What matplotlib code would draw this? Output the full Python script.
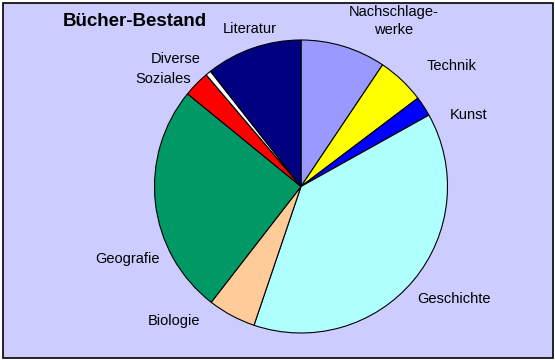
import matplotlib
matplotlib.use("Agg")
import matplotlib.pyplot as plt
from matplotlib.patches import Rectangle

plt.rcParams['font.family'] = ['Liberation Sans', 'DejaVu Sans']

# shares, clockwise from 12 o'clock
categories = ['Nachschlagewerke', 'Technik', 'Kunst', 'Geschichte', 'Biologie',
              'Geografie', 'Soziales', 'Diverse', 'Literatur']
shares = [9.4, 5.3, 2.2, 38.3, 5.3, 25.4, 2.9, 0.6, 10.6]
colors = ['#9999FF', '#FFFF00', '#0000FF', '#B0FFFF', '#FFCC99',
          '#009966', '#FF0000', '#FFFFFF', '#000080']

W, H = 555, 360
fig = plt.figure(figsize=(W / 100, H / 100), dpi=100)
fig.patch.set_facecolor('white')
ax = fig.add_axes([0, 0, 1, 1])

# plot area background with black frame
ax.add_patch(Rectangle((2.5, 2.5), W - 5, H - 5, facecolor='#CCCCFF',
                       edgecolor='black', linewidth=1.2, zorder=0))

ax.pie(shares, colors=colors, startangle=90, counterclock=False,
       center=(301, H - 186.5), radius=146.5, frame=True,
       wedgeprops=dict(edgecolor='black', linewidth=0.8))
ax.set_xlim(0, W)
ax.set_ylim(0, H)
ax.axis('off')

ax.text(135, H - 22, 'Bücher-Bestand', fontsize=13.5, fontweight='bold',
        ha='center', va='center')

lab = dict(fontsize=10.5, ha='center', va='center')
ax.text(394, H - 21, 'Nachschlage-\nwerke', linespacing=1.3, **lab)
ax.text(452, H - 66, 'Technik', **lab)
ax.text(469, H - 115, 'Kunst', **lab)
ax.text(454, H - 299, 'Geschichte', **lab)
ax.text(174, H - 321, 'Biologie', **lab)
ax.text(127, H - 259, 'Geografie', **lab)
ax.text(163, H - 79, 'Soziales', **lab)
ax.text(176, H - 59, 'Diverse', **lab)
ax.text(250, H - 29, 'Literatur', **lab)

fig.savefig('out.png', dpi=100)
